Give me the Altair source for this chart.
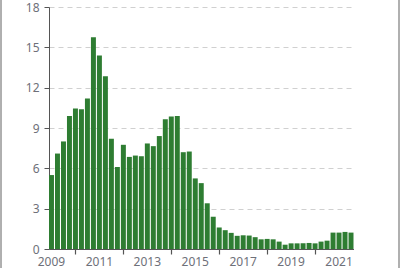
import altair as alt
import pandas as pd

years = list(range(2009, 2022))
periods = [f"{y}Q{q}" for y in years for q in range(1, 5)][:51]

values = [
    5.5, 7.1, 8.0, 9.9, 10.45, 10.4, 11.2, 15.75, 14.4, 12.85,
    8.2, 6.1, 7.75, 6.85, 6.95, 6.9, 7.85, 7.65, 8.4, 9.65,
    9.85, 9.9, 7.2, 7.25, 5.25, 4.9, 3.4, 2.4, 1.6, 1.4,
    1.2, 0.98, 1.02, 1.0, 0.88, 0.72, 0.75, 0.72, 0.55, 0.32,
    0.42, 0.42, 0.42, 0.45, 0.42, 0.55, 0.62, 1.22, 1.22, 1.27,
    1.22,
]

axis_periods = [f"{y}Q1" for y in years]  # odd years labelled, even years ticked
y_ticks = [0, 3, 6, 9, 12, 15, 18]

df = pd.DataFrame({"period": periods, "value": values})

FONT = "Noto Sans"
LABEL_COLOR = "#6e7079"
AXIS_COLOR = "#555555"

odd_year = "toNumber(slice(datum.value, 0, 4)) % 2 == 1"

bars = (
    alt.Chart(df)
    .mark_bar(color="#2e7d32")
    .encode(
        x=alt.X(
            "period:N",
            scale=alt.Scale(domain=periods, paddingInner=0.17, paddingOuter=0),
            sort=periods,
            axis=alt.Axis(
                values=axis_periods,
                labelExpr=f"{odd_year} ? slice(datum.value, 0, 4) : ''",
                ticks=True,
                tickSize=5,
                tickWidth=1.2,
                tickColor=AXIS_COLOR,
                tickOpacity={"condition": {"test": odd_year, "value": 0}, "value": 1},
                bandPosition=0.5,
                domain=True,
                domainColor=AXIS_COLOR,
                grid=False,
                labelAngle=0,
                title=None,
                labelPadding=2,
                labelFont=FONT,
                labelFontSize=12,
                labelColor=LABEL_COLOR,
                labelOverlap=False,
            ),
        ),
        y=alt.Y(
            "value:Q",
            scale=alt.Scale(domain=[0, 18], nice=False),
            axis=alt.Axis(
                values=y_ticks,
                title=None,
                grid=True,
                gridColor="#d0d0d0",
                gridDash=[5, 4],
                gridWidth=1,
                domain=True,
                domainColor=AXIS_COLOR,
                ticks=True,
                tickSize=5,
                tickColor=AXIS_COLOR,
                labelFont=FONT,
                labelFontSize=12,
                labelColor=LABEL_COLOR,
                labelPadding=5,
            ),
        ),
    )
)

# light frame around the whole picture (left and right edges)
frame_left = alt.Chart(df).mark_rule(color="#b0b0b0", strokeWidth=1.5).encode(
    x=alt.value(-48.3), y=alt.value(-7), y2=alt.value(261)
)
frame_right = alt.Chart(df).mark_rule(color="#b0b0b0", strokeWidth=1.5).encode(
    x=alt.value(350), y=alt.value(-7), y2=alt.value(261)
)

chart = (
    alt.layer(bars, frame_left, frame_right)
    .properties(
        width=304.5,
        height=242,
        background="white",
        autosize=alt.AutoSizeParams(type="none"),
        padding={"left": 49, "top": 7, "right": 48.5, "bottom": 19},
    )
    .configure_view(strokeWidth=0, stroke="transparent")
)

chart.save("out.html", embed_options={"renderer": "svg", "actions": False})
